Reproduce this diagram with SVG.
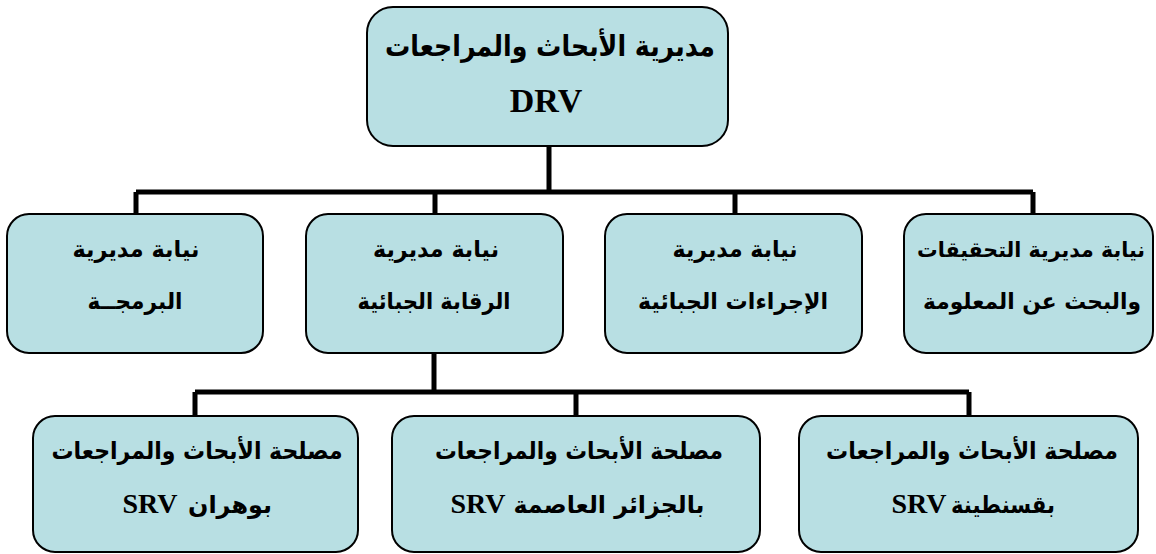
<svg xmlns="http://www.w3.org/2000/svg" width="1156" height="554" viewBox="0 0 1156 554">
<style>
.box{fill:#B8DFE3;stroke:#000;stroke-width:2}
.ar{font-family:"DejaVu Sans","Liberation Sans",sans-serif;font-weight:bold;fill:#000;text-anchor:middle}
.lat{font-family:"Liberation Serif","Times New Roman",serif;font-weight:bold;fill:#000;text-anchor:middle}
.m{font-size:23px}
.b{font-size:24px}
.t{font-size:29px}
#connectors path{fill:none;stroke:#000;stroke-width:5}
</style>
<rect width="1156" height="554" fill="#fff"/>
<g id="connectors">
<path d="M549 146V192M136 192H1033M136 192V214M435 192V214M735 192V214M1033 192V214"/>
<path d="M434 353V392M195 392H969M195 392V416M576 392V416M969 392V416"/>
</g>
<g id="drv">
<rect class="box" x="367" y="7" width="361" height="139" rx="26"/>
<text class="ar t" x="550" y="56" textLength="330" lengthAdjust="spacingAndGlyphs">مديرية الأبحاث والمراجعات</text>
<text class="lat" x="546" y="112" font-size="34">DRV</text>
</g>
<g id="prog">
<rect class="box" x="7" y="214" width="256" height="139" rx="22"/>
<text class="ar m" x="136" y="257" textLength="127" lengthAdjust="spacingAndGlyphs">نيابة مديرية</text>
<text class="ar m" x="135" y="309" textLength="95" lengthAdjust="spacingAndGlyphs">البرمجــة</text>
</g>
<g id="control">
<rect class="box" x="306" y="214" width="257" height="139" rx="22"/>
<text class="ar m" x="436" y="257" textLength="126" lengthAdjust="spacingAndGlyphs">نيابة مديرية</text>
<text class="ar m" x="434" y="309" textLength="153" lengthAdjust="spacingAndGlyphs">الرقابة الجبائية</text>
</g>
<g id="procedures">
<rect class="box" x="605" y="214" width="257" height="139" rx="22"/>
<text class="ar m" x="735" y="257" textLength="125" lengthAdjust="spacingAndGlyphs">نيابة مديرية</text>
<text class="ar m" x="733" y="309" textLength="190" lengthAdjust="spacingAndGlyphs">الإجراءات الجبائية</text>
</g>
<g id="investigations">
<rect class="box" x="904" y="214" width="249" height="139" rx="22"/>
<text class="ar" x="1031" y="257" font-size="21" textLength="228" lengthAdjust="spacingAndGlyphs">نيابة مديرية التحقيقات</text>
<text class="ar" x="1032" y="309" font-size="22" textLength="218" lengthAdjust="spacingAndGlyphs">والبحث عن المعلومة</text>
</g>
<g id="srv-oran">
<rect class="box" x="33" y="416" width="325" height="136" rx="22"/>
<text class="ar b" x="197" y="459" textLength="291" lengthAdjust="spacingAndGlyphs">مصلحة الأبحاث والمراجعات</text>
<text class="lat" x="150" y="513" font-size="28">SRV</text>
<text class="ar b" x="230" y="513" textLength="84" lengthAdjust="spacingAndGlyphs">بوهران</text>
</g>
<g id="srv-alger">
<rect class="box" x="392" y="416" width="368" height="136" rx="22"/>
<text class="ar b" x="579" y="459" textLength="288" lengthAdjust="spacingAndGlyphs">مصلحة الأبحاث والمراجعات</text>
<text class="lat" x="478" y="513" font-size="28">SRV</text>
<text class="ar b" x="609" y="513" textLength="191" lengthAdjust="spacingAndGlyphs">بالجزائر العاصمة</text>
</g>
<g id="srv-constantine">
<rect class="box" x="799" y="416" width="339" height="136" rx="22"/>
<text class="ar b" x="972" y="459" textLength="292" lengthAdjust="spacingAndGlyphs">مصلحة الأبحاث والمراجعات</text>
<text class="lat" x="919" y="513" font-size="28">SRV</text>
<text class="ar b" x="1003" y="513" textLength="104" lengthAdjust="spacingAndGlyphs">بقسنطينة</text>
</g>
</svg>
